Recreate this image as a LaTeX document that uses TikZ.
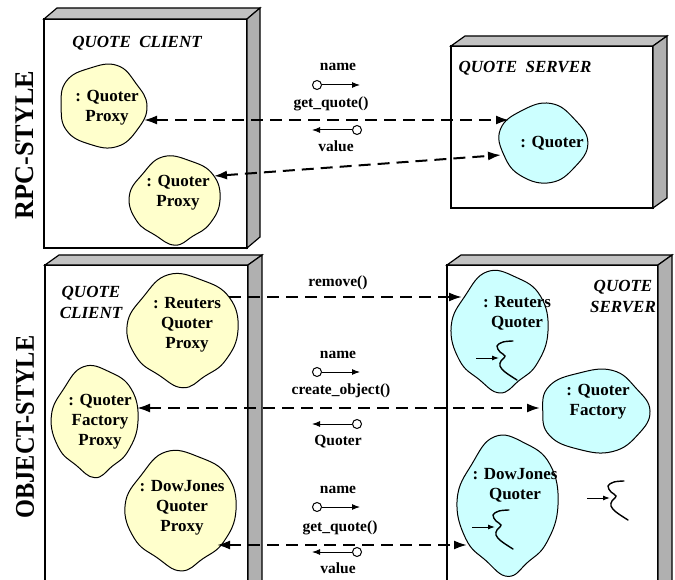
\documentclass[tikz,border=0pt]{standalone}
\usepackage{fontspec}
\setmainfont{Liberation Serif}
\usetikzlibrary{arrows.meta,calc,shapes.geometric}
\definecolor{ylw}{RGB}{255,255,204}
\definecolor{cyn}{RGB}{204,255,255}
\tikzset{
 box/.style={draw=black, line width=1.2pt, fill=white, inner sep=0pt, outer sep=0pt},
 boxside/.style={draw=black, line width=1.2pt, fill=gray!62},
 boxtop/.style={draw=black, line width=1.2pt, fill=gray!48},
 blobline/.style={draw=black, line width=1pt},
 blobarea/.style={ellipse, draw=none, inner sep=0pt, outer sep=0pt},
 ctext/.style={font=\fontsize{17}{20}\selectfont\bfseries, align=center, inner sep=0pt},
 ttext/.style={font=\fontsize{17}{21}\selectfont\bfseries\itshape, align=center, inner sep=0pt},
 ltext/.style={font=\fontsize{15.5}{17}\selectfont\bfseries, inner sep=0pt},
 biglabel/.style={font=\fontsize{27}{30}\selectfont\bfseries, rotate=90, inner sep=0pt},
 dashconn/.style={line width=2pt, dash pattern=on 12pt off 7pt, -{Latex[length=13pt,width=9pt]}},
 dashboth/.style={line width=2pt, dash pattern=on 12pt off 7pt, {Latex[length=13pt,width=9pt]}-{Latex[length=13pt,width=9pt]}},
 smallarr/.style={line width=1pt, -{Latex[length=8pt,width=6pt]}},
 port/.style={circle, draw, line width=1pt, fill=white, minimum size=9pt, inner sep=0pt},
 thread/.pic={
  \draw[line width=1pt, -{Latex[length=7pt,width=5pt]}] (-21,0) -- (2,0);
  \draw[line width=1.4pt, line cap=round] plot[smooth, tension=0.6] coordinates {(16,-17) (6,-16) (0,-12) (3,-6) (8,-2) (4,3) (3,8) (8,14) (20,22)};
 }
}
\newcommand\cloudnode[9]{%
 \begin{scope}[shift={(#2,#3)}, xscale=#4, yscale=#5]
  \filldraw[blobline, fill=#6] plot[smooth cycle, tension=0.75] coordinates {#7};
 \end{scope}
 \node[blobarea, minimum width=2*#4, minimum height=2*#5] (#1) at (#2,#3) {};
 \node[ctext] (#1-t) at ($(#1.center)+(#8)$) {#9};
}
\newcommand\blobA{(0:1) (36:0.97) (72:1.04) (108:0.98) (144:1.02) (180:0.95) (216:1.03) (252:0.97) (288:1.04) (324:0.93)}
\newcommand\blobB{(0:1) (35:0.95) (65:0.93) (90:1.05) (118:0.93) (150:0.98) (185:1.02) (220:0.94) (255:1.04) (290:0.97) (325:1.03)}
\newcommand\blobC{(0:1.02) (40:0.95) (80:1.03) (120:0.98) (160:0.94) (200:1.03) (240:0.96) (280:1.03) (320:0.94)}
\newcommand\deepbox[7]{% name, x1, y1, x2, y2, dx, dy
 \node[box, minimum width={#4-#2}, minimum height={#5-#3}, anchor=north west] (#1) at (#2,#3) {};
 \filldraw[boxtop] (#1.north west) -- ++(#6,-#7) -- ($(#1.north east)+(#6,-#7)$) -- (#1.north east) -- cycle;
 \filldraw[boxside] (#1.north east) -- ++(#6,-#7) -- ($(#1.south east)+(#6,-#7)$) -- (#1.south east) -- cycle;
}
\begin{document}
\begin{tikzpicture}[x=1pt,y=-1pt]
\useasboundingbox (0,0) rectangle (675,580);
\clip (0,0) rectangle (675,580);
% boxes
\deepbox{rpcclient}{44}{19}{247}{248}{13}{11}
\deepbox{rpcserver}{451}{46}{653}{208}{14}{10}
\deepbox{osclient}{45}{265}{248}{600}{14}{10}
\deepbox{osserver}{447}{265}{658}{600}{14}{10}
% big side labels
\node[biglabel] (rpcl) at (25,145) {\scalebox{0.97}[1]{RPC-STYLE}};
\node[biglabel] (objl) at (25,427) {\scalebox{0.9}[1]{OBJECT-STYLE}};
% titles
\node[ttext] (qc1) at (137,43) {QUOTE\ \ CLIENT};
\node[ttext] (qs1) at (525,68) {QUOTE\ \ SERVER};
\node[ttext] (qc2) at (91,302) {QUOTE\\CLIENT};
\node[ttext] (qs2) at (623,297) {QUOTE\\SERVER};
% clouds RPC
\cloudnode{qp1}{103}{106}{44}{41}{ylw}{\blobA}{4,2}{: Quoter\\Proxy}
\cloudnode{qp2}{175}{200}{45}{43}{ylw}{\blobB}{3,-7}{: Quoter\\Proxy}
\cloudnode{sq}{543}{143}{44}{39}{cyn}{\blobC}{9,0}{: Quoter}
% clouds object style
\cloudnode{rqp}{183}{330}{55}{55}{ylw}{\blobB}{4,-5}{: Reuters\\Quoter\\Proxy}
\cloudnode{qfp}{95}{421}{43}{54}{ylw}{\blobB}{5,1}{: Quoter\\Factory\\Proxy}
\cloudnode{djp}{181}{510}{55}{58}{ylw}{\blobB}{1,-2}{: DowJones\\Quoter\\Proxy}
\cloudnode{rq}{500}{331}{48}{59}{cyn}{\blobB}{17,-18}{: Reuters\\Quoter}
\cloudnode{qf}{595}{411}{55}{41}{cyn}{\blobA}{3,-9}{: Quoter\\Factory}
\cloudnode{djq}{508}{505}{50}{68}{cyn}{\blobB}{7,-20}{: DowJones\\Quoter}
% threads
\pic at (497,358) {thread};
\pic at (493,527) {thread};
\pic at (608,498) {thread};
% RPC connectors
\draw[dashboth] ([shift={(41,14)}]qp1.center) -- ([shift={(-34,-23)}]sq.center);
\draw[dashboth] ([shift={(39,-24)}]qp2.center) -- ([shift={(-42,12)}]sq.center);
\node[ltext] (n1) at (338,67) {name};
\node[port] (p1) at (317,85) {};
\coordinate (p1t) at (360,85);
\draw[smallarr] (p1.east) -- (p1t);
\node[ltext] (g1) at (331,104) {get\_quote()};
\node[port] (r1) at (357,130) {};
\coordinate (r1t) at (312,130);
\draw[smallarr] (r1.west) -- (r1t);
\node[ltext] (v1) at (336,146) {value};
% object-style connectors
\draw[dashconn] ([shift={(46,-33)}]rqp.center) -- ([shift={(-38,-34)}]rq.center);
\node[ltext] (rm) at (338,283) {remove()};
\node[ltext] (n2) at (338,355) {name};
\node[port] (p2) at (317,372) {};
\coordinate (p2t) at (360,372);
\draw[smallarr] (p2.east) -- (p2t);
\node[ltext] (co) at (341,391) {create\_object()};
\draw[dashboth] ([shift={(42,-13)}]qfp.center) -- ([shift={(-55,-3)}]qf.center);
\node[port] (r2) at (357,424) {};
\coordinate (r2t) at (312,424);
\draw[smallarr] (r2.west) -- (r2t);
\node[ltext] (qo) at (338,442) {Quoter};
\node[ltext] (n3) at (338,490) {name};
\node[port] (p3) at (317,507) {};
\coordinate (p3t) at (360,507);
\draw[smallarr] (p3.east) -- (p3t);
\node[ltext] (g2) at (340,528) {get\_quote()};
\draw[dashboth] ([shift={(36,35)}]djp.center) -- ([shift={(-41,40)}]djq.center);
\node[port] (r3) at (357,552) {};
\coordinate (r3t) at (312,552);
\draw[smallarr] (r3.west) -- (r3t);
\node[ltext] (v2) at (338,568) {value};
\end{tikzpicture}
\end{document}
